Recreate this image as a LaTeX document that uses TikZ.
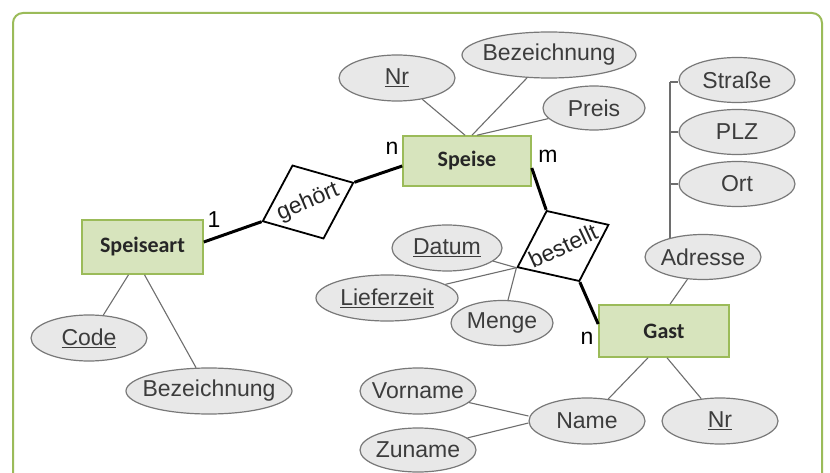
\documentclass[tikz,border=0pt]{standalone}
\usepackage{fontspec}
\setmainfont{Liberation Sans}
\newfontfamily\entfont{Carlito}
\usetikzlibrary{shapes.geometric,calc}
\definecolor{frameg}{RGB}{155,187,89}
\definecolor{entf}{RGB}{215,228,189}
\definecolor{entb}{RGB}{155,187,89}
\definecolor{attrf}{RGB}{232,232,232}
\definecolor{attrb}{RGB}{120,120,120}
\definecolor{attrt}{RGB}{60,60,60}
\definecolor{linec}{RGB}{110,110,110}
\newcommand\tx[1]{\makebox[0pt]{#1}}
\newcommand\ulx[1]{\underline{#1}}
\begin{document}
\begin{tikzpicture}[x=1pt,y=-1pt,
  ent/.style={rectangle, draw=entb, fill=entf, line width=1.6pt, inner sep=0pt,
    text=black!85, font=\entfont\bfseries\fontsize{22}{26}\selectfont},
  attr/.style={ellipse, draw=attrb, fill=attrf, line width=1.2pt, inner sep=0pt,
    text=attrt, font=\fontsize{23}{26}\selectfont},
  rel/.style={diamond, draw=black, fill=white, line width=1.8pt, inner sep=0pt,
    aspect=1.24, text=black!85, font=\fontsize{23}{26}\selectfont},
  card/.style={inner sep=0pt, text=black, font=\fontsize{23}{26}\selectfont},
  thin/.style={draw=linec, line width=1.1pt},
  thick/.style={draw=black, line width=3pt}
]
\useasboundingbox (0,0) rectangle (830,473);
\clip (0,0) rectangle (830,473);
\fill[white] (0,0) rectangle (830,473);
\draw[frameg, line width=2pt, rounded corners=10pt] (13,13) rectangle (822,510);

% entities
\node[ent, minimum width=128pt, minimum height=50pt] (sp) at (467,161) {\tx{Speise}};
\node[ent, minimum width=121pt, minimum height=54pt] (sa) at (142.5,247) {\tx{Speiseart}};
\node[ent, minimum width=130pt, minimum height=52pt] (ga) at (664,331) {\tx{Gast}};

% relationships
\node[rel, rotate=23, minimum width=99pt, minimum height=80pt] (ge) at (308,202) {\tx{gehört}};
\node[rel, rotate=25, minimum width=101pt, minimum height=78pt] (be) at (563,246) {\tx{bestellt}};

% attributes
\node[attr, minimum width=116pt, minimum height=46pt] (nr1) at (397,78) {\tx{\ulx{Nr}}};
\node[attr, minimum width=174pt, minimum height=46pt] (bz1) at (549,55) {\tx{Bezeichnung}};
\node[attr, minimum width=102pt, minimum height=44pt] (pr) at (594,108) {\tx{Preis}};
\node[attr, minimum width=116pt, minimum height=46pt] (code) at (89,338) {\tx{\ulx{Code}}};
\node[attr, minimum width=166pt, minimum height=46pt] (bz2) at (209,391) {\tx{Bezeichnung}};
\node[attr, minimum width=110pt, minimum height=46pt] (dat) at (447,248) {\tx{\ulx{Datum}}};
\node[attr, minimum width=142pt, minimum height=46pt] (lz) at (387,298) {\tx{\ulx{Lieferzeit}}};
\node[attr, minimum width=102pt, minimum height=45pt] (me) at (502,323) {\tx{Menge}};
\node[attr, minimum width=116pt, minimum height=45pt] (ad) at (703,257) {\tx{Adresse}};
\node[attr, minimum width=116pt, minimum height=45pt] (str) at (737,80) {\tx{Straße}};
\node[attr, minimum width=116pt, minimum height=45pt] (plz) at (737,132) {\tx{PLZ}};
\node[attr, minimum width=116pt, minimum height=45pt] (ort) at (737,184) {\tx{Ort}};
\node[attr, minimum width=116pt, minimum height=46pt] (na) at (587,421) {\tx{Name}};
\node[attr, minimum width=116pt, minimum height=46pt] (nr2) at (720,421) {\tx{\ulx{Nr}}};
\node[attr, minimum width=116pt, minimum height=46pt] (vn) at (418,391) {\tx{Vorname}};
\node[attr, minimum width=116pt, minimum height=44pt] (zn) at (418,450) {\tx{Zuname}};

% cardinalities
\node[card] (c1) at (214,220) {1};
\node[card] (c2) at (392,148) {n};
\node[card] (c3) at (548,156) {m};
\node[card] (c4) at (587,338) {n};

% thick relationship lines
\draw[thick] ([yshift=5pt]sa.east) -- (ge.west);
\draw[thick] (ge.east) -- ([yshift=-5pt]sp.west);
\draw[thick] ([yshift=-7pt]sp.east) -- (be.north);
\draw[thick] (be.south) -- ([yshift=7pt]ga.west);

% attribute lines
\draw[thin] (nr1) -- ([xshift=-2pt]sp.north);
\draw[thin] (bz1) -- ([xshift=5pt]sp.north);
\draw[thin] (pr) -- ([xshift=10pt]sp.north);
\draw[thin] (code) -- ([xshift=-14pt]sa.south);
\draw[thin] (bz2) -- ([xshift=2pt]sa.south);
\draw[thin] (dat) -- (be.west);
\draw[thin] (lz) -- (be.west);
\draw[thin] (me) -- (be.west);
\draw[thin] (ad) -- ([xshift=6pt]ga.north);
\draw[thin] (na) -- ([xshift=-16pt]ga.south);
\draw[thin] (nr2) -- ([xshift=3pt]ga.south);
\draw[thin] (vn) -- ([yshift=5pt]na.west);
\draw[thin] (zn) -- ([yshift=-2pt]na.west);

% address bracket
\coordinate (btop) at (670,82);
\coordinate (bbot) at (670,238);
\draw[thin] (btop) -- (bbot);
\draw[thin] (btop) -- (btop -| str.west);
\draw[thin] (btop |- plz.west) -- (plz.west);
\draw[thin] (btop |- ort.west) -- (ort.west);
\end{tikzpicture}
\end{document}
